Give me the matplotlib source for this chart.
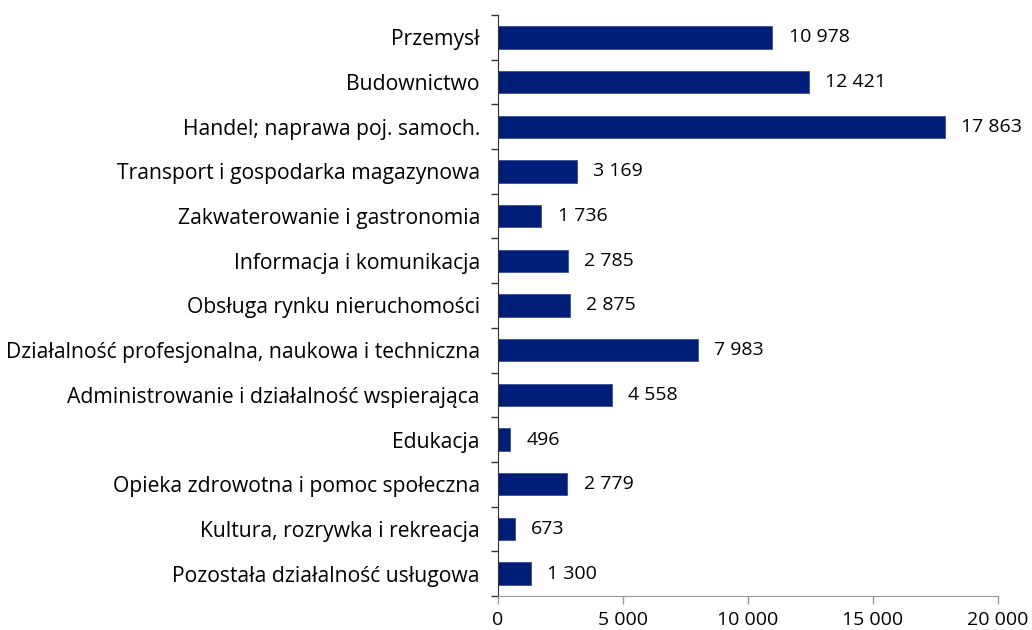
import matplotlib.pyplot as plt
import numpy as np

categories = [
    "Przemysł",
    "Budownictwo",
    "Handel; naprawa poj. samoch.",
    "Transport i gospodarka magazynowa",
    "Zakwaterowanie i gastronomia",
    "Informacja i komunikacja",
    "Obsługa rynku nieruchomości",
    "Działalność profesjonalna, naukowa i techniczna",
    "Administrowanie i działalność wspierająca",
    "Edukacja",
    "Opieka zdrowotna i pomoc społeczna",
    "Kultura, rozrywka i rekreacja",
    "Pozostała działalność usługowa",
]
values = [10978, 12421, 17863, 3169, 1736, 2785, 2875, 7983, 4558, 496, 2779, 673, 1300]
xticks = [0, 5000, 10000, 15000, 20000]


def fmt(v):
    return f"{v:,}".replace(",", " ")


plt.rcParams['font.family'] = ['Open Sans', 'DejaVu Sans']

fig = plt.figure(figsize=(10.32, 6.3), dpi=100)
ax = fig.add_axes([498 / 1032, 1 - 596 / 630, 500 / 1032, 581 / 630])

y = np.arange(len(categories))
ax.barh(y, values, height=0.5, color="#001d77", edgecolor="#3a4f9a", linewidth=0.6)

for yi, v in zip(y, values):
    ax.text(v + 650, yi, fmt(v), va="center", ha="left", fontsize=14, color="black")

ax.set_ylim(len(categories) - 0.5, -0.5)
ax.set_xlim(0, 20000)

ax.set_yticks(y)
ax.set_yticklabels(categories, fontsize=15.2)
ax.set_yticks(np.arange(len(categories) + 1) - 0.5, minor=True)
ax.tick_params(axis="y", which="major", length=0, pad=13)
ax.tick_params(axis="y", which="minor", length=5, direction="out", color="#333333", width=1)

ax.set_xticks(xticks)
ax.set_xticklabels([fmt(t) for t in xticks], fontsize=14)
ax.tick_params(axis="x", length=6, color="#999999", width=1, pad=5)

ax.spines["top"].set_visible(False)
ax.spines["right"].set_visible(False)
ax.spines["bottom"].set_color("#999999")
ax.spines["left"].set_color("#333333")

fig.savefig("out.png", dpi=100)
